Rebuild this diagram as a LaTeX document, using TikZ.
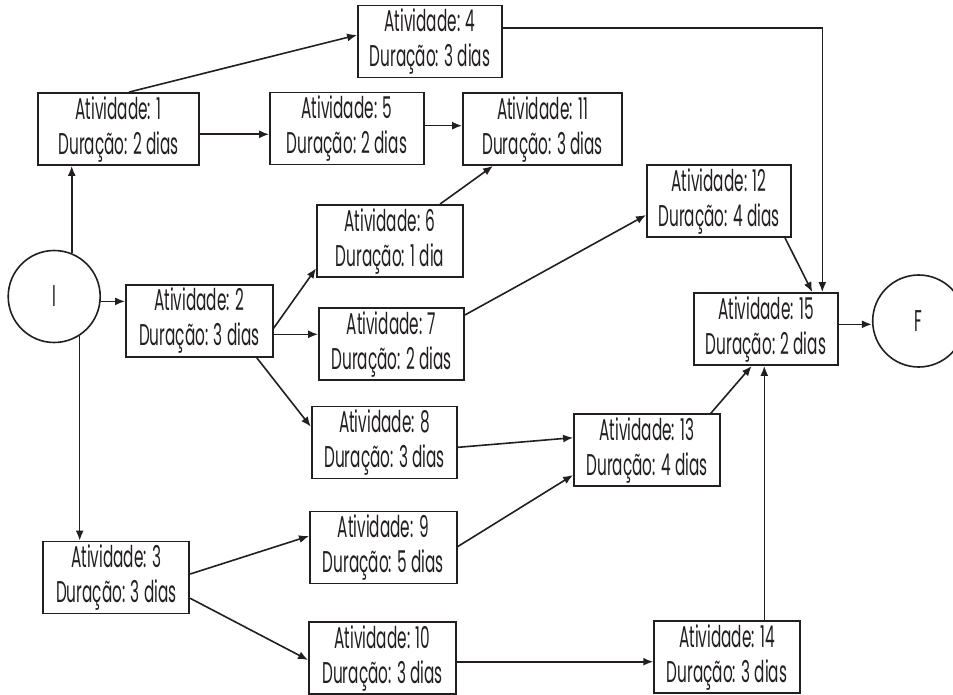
\documentclass[tikz,border=0pt]{standalone}
\usepackage{fontspec}
\setmainfont{Poppins}[FakeStretch=0.51]
\usetikzlibrary{arrows.meta}
\definecolor{ink}{HTML}{231F20}
\begin{document}
\begin{tikzpicture}[x=1pt,y=-1pt,
  act/.style={draw=ink,line width=1.8pt,rectangle,inner sep=0pt,align=center,
    minimum height=72pt,font=\fontsize{30}{35}\selectfont,text=ink},
  term/.style={draw=ink,line width=1.6pt,circle,inner sep=0pt,minimum size=92pt,
    font=\fontsize{30}{35}\selectfont,text=ink},
  arr/.style={draw=ink,line width=1.6pt,-{Latex[length=10pt,width=8pt]}}]
\useasboundingbox[fill=white] (0,0) rectangle (953,695);

% start and end events
\node[term] (i) at (54.2,296.5) {I};
\node[term] (f) at (918.7,321) {F};

% activities
\node[act,minimum width=161pt]   (a1)  at (118.5,129)   {Atividade: 1\\Duração: 2 dias};
\node[act,minimum width=144pt]   (a4)  at (430,41.5)    {Atividade: 4\\Duração: 3 dias};
\node[act,minimum width=154pt]   (a5)  at (347,128.5)   {Atividade: 5\\Duração: 2 dias};
\node[act,minimum width=159pt]   (a11) at (542.5,129)   {Atividade: 11\\Duração: 3 dias};
\node[act,minimum width=144pt]   (a12) at (719,201)     {Atividade: 12\\Duração: 4 dias};
\node[act,minimum width=146pt]   (a6)  at (390,241)     {Atividade: 6\\Duração: 1 dia};
\node[act,minimum width=146.7pt] (a2)  at (199.3,320.8) {Atividade: 2\\Duração: 3 dias};
\node[act,minimum width=145pt]   (a7)  at (391.5,344)   {Atividade: 7\\Duração: 2 dias};
\node[act,minimum width=143.7pt] (a15) at (766,329)     {Atividade: 15\\Duração: 2 dias};
\node[act,minimum width=145.6pt] (a8)  at (384.5,442.5) {Atividade: 8\\Duração: 3 dias};
\node[act,minimum width=146pt]   (a13) at (647,450.3)   {Atividade: 13\\Duração: 4 dias};
\node[act,minimum width=146.7pt] (a9)  at (383.3,547.5) {Atividade: 9\\Duração: 5 dias};
\node[act,minimum width=146pt]   (a3)  at (116.3,577.5) {Atividade: 3\\Duração: 3 dias};
\node[act,minimum width=147pt]   (a10) at (382.5,658.3) {Atividade: 10\\Duração: 3 dias};
\node[act,minimum width=145.7pt] (a14) at (727,657)     {Atividade: 14\\Duração: 3 dias};

% precedence arrows
\draw[arr] (i.68) -- (i.68 |- a1.south);
\draw[arr] (i.-6) -- (i.-6 -| a2.west);
\draw[arr] (i.-57) -- (i.-57 |- a3.north);

\draw[arr] ([xshift=10.5pt]a1.north) -- ([yshift=6.5pt]a4.west);
\draw[arr] ([yshift=-5.3pt]a1.east) -- ([yshift=-5.3pt]a1.east -| a5.west);
\draw[arr] ([yshift=2.8pt]a5.east) -- ([yshift=2.8pt]a5.east -| a11.west);
\draw[arr] ([yshift=13.2pt]a4.east) -| ([xshift=56.3pt]a15.north);

\draw[arr] ([xshift=50pt]a6.north) -- ([xshift=-49.5pt]a11.south);
\draw[arr] ([yshift=-7.5pt]a2.east) -- ([yshift=-27.3pt]a6.west);
\draw[arr] ([yshift=-13.5pt]a2.east) -- ([yshift=-13.5pt]a2.east -| a7.west);
\draw[arr] ([xshift=57.4pt]a2.south) -- ([yshift=15.8pt]a8.west);

\draw[arr] ([yshift=29pt]a7.east) -- ([yshift=-14pt]a12.west);
\draw[arr] ([xshift=66pt]a12.south) -- ([xshift=46.3pt]a15.north);
\draw[arr] ([yshift=4.7pt]a15.east) -- ([yshift=4.7pt]a15.east -| f.west);

\draw[arr] ([yshift=-4.8pt]a8.east) -- ([yshift=12.6pt]a13.west);
\draw[arr] ([yshift=0.8pt]a9.east) -- ([yshift=-24.7pt]a13.west);
\draw[arr] ([xshift=63.7pt]a13.north) -- ([xshift=-14.3pt]a15.south);
\draw[arr] ([xshift=37.3pt]a14.north) -- ([xshift=37.3pt]a14.north |- a15.south);

\draw[arr] ([yshift=3.5pt]a3.east) -- ([yshift=11.5pt]a9.west);
\draw[arr] ([yshift=-20.8pt]a3.east) -- ([yshift=-1.7pt]a10.west);
\draw[arr] ([yshift=-3.4pt]a10.east) -- ([yshift=-3.4pt]a10.east -| a14.west);
\end{tikzpicture}
\end{document}
